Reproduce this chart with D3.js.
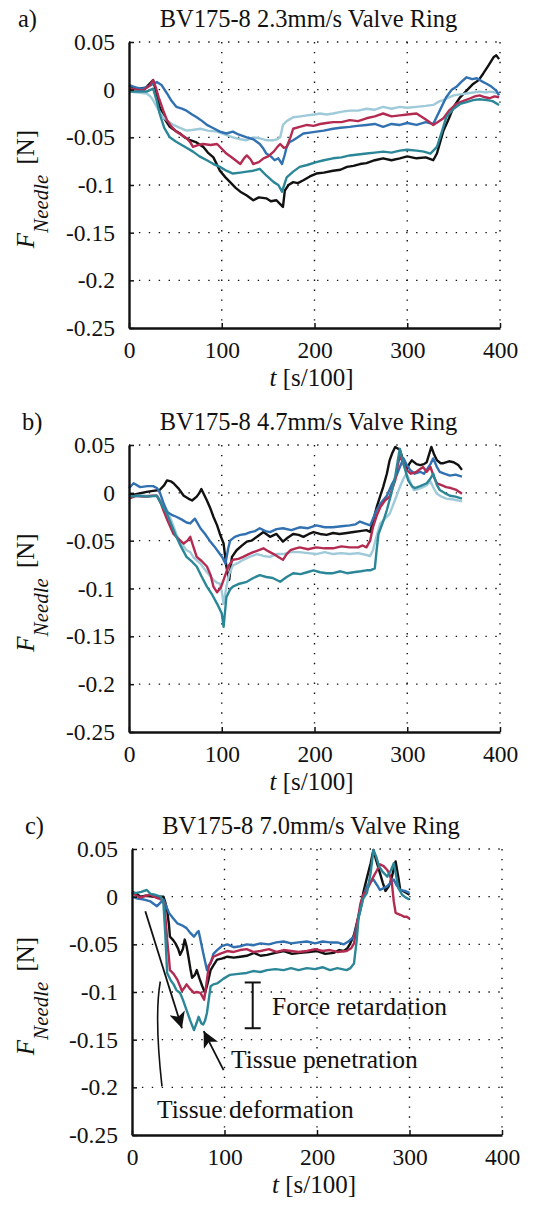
<!DOCTYPE html>
<html>
<head>
<meta charset="utf-8">
<script src="https://cdn.jsdelivr.net/npm/d3@7"></script>
<style>
  body { margin: 0; background: #fff; }
  text { font-family: "Liberation Serif", "Times New Roman", serif; fill: #111; }
</style>
</head>
<body>
<div id="chart"></div>
<script>
// ticks shared by all three panels
var xTicks = [0, 100, 200, 300, 400];
var yTicks = [0.05, 0, -0.05, -0.1, -0.15, -0.2, -0.25];
var yTickLabels = ["0.05", "0", "-0.05", "-0.1", "-0.15", "-0.2", "-0.25"];

var titles = ["BV175-8 2.3mm/s Valve Ring", "BV175-8 4.7mm/s Valve Ring", "BV175-8 7.0mm/s Valve Ring"];
var panelLabels = ["a)", "b)", "c)"];

// ---- panel a : 2.3 mm/s  ([t, F])
var aBlack = [[0,0.004],[10,0.001],[18,0.002],[26,0.01],[30,-0.005],[33,-0.018],[38,-0.03],[44,-0.039],[50,-0.043],[55,-0.046],[60,-0.05],[66,-0.053],[72,-0.055],[80,-0.06],[85,-0.066],[91,-0.071],[98,-0.085],[104,-0.092],[109,-0.097],[115,-0.103],[120,-0.107],[127,-0.111],[134,-0.116],[140,-0.113],[148,-0.114],[153,-0.117],[159,-0.116],[163,-0.12],[166,-0.123],[168,-0.106],[172,-0.1],[177,-0.097],[182,-0.098],[188,-0.095],[195,-0.091],[202,-0.088],[210,-0.087],[220,-0.085],[228,-0.084],[235,-0.081],[242,-0.08],[249,-0.078],[256,-0.077],[265,-0.074],[274,-0.072],[283,-0.074],[292,-0.072],[300,-0.07],[310,-0.072],[320,-0.071],[328,-0.074],[332,-0.067],[339,-0.043],[345,-0.03],[350,-0.018],[357,-0.008],[364,-0.001],[371,0.006],[377,0.01],[382,0.017],[388,0.026],[393,0.034],[396,0.036],[399,0.032]];
var aBlue = [[0,0.005],[8,0.002],[15,0.001],[22,0.004],[30,0.008],[35,0.005],[41,-0.004],[46,-0.012],[51,-0.018],[57,-0.02],[62,-0.022],[68,-0.026],[73,-0.029],[79,-0.033],[84,-0.037],[90,-0.04],[98,-0.044],[105,-0.046],[112,-0.044],[118,-0.047],[127,-0.05],[134,-0.052],[141,-0.057],[145,-0.062],[148,-0.067],[153,-0.07],[157,-0.074],[161,-0.072],[165,-0.078],[168,-0.068],[170,-0.06],[173,-0.055],[177,-0.053],[182,-0.05],[188,-0.046],[195,-0.045],[202,-0.044],[210,-0.043],[220,-0.041],[228,-0.04],[238,-0.039],[246,-0.038],[256,-0.037],[265,-0.036],[274,-0.039],[283,-0.036],[292,-0.037],[300,-0.035],[310,-0.037],[320,-0.034],[328,-0.036],[335,-0.022],[342,-0.008],[348,0],[353,0.003],[358,0.008],[364,0.013],[370,0.011],[375,0.012],[380,0.009],[386,0.006],[391,0.003],[396,-0.001],[399,-0.006]];
var aLight = [[0,-0.002],[10,-0.003],[19,-0.004],[23,-0.007],[26,-0.011],[31,-0.02],[37,-0.029],[42,-0.033],[48,-0.037],[55,-0.04],[62,-0.043],[70,-0.042],[77,-0.041],[85,-0.043],[95,-0.044],[103,-0.047],[112,-0.05],[120,-0.052],[127,-0.053],[134,-0.05],[141,-0.051],[148,-0.053],[156,-0.053],[160,-0.052],[163,-0.05],[166,-0.037],[170,-0.033],[177,-0.029],[185,-0.028],[192,-0.027],[200,-0.026],[206,-0.025],[213,-0.026],[220,-0.025],[230,-0.023],[238,-0.022],[247,-0.022],[256,-0.02],[265,-0.021],[274,-0.018],[283,-0.02],[292,-0.018],[300,-0.019],[310,-0.018],[320,-0.017],[328,-0.016],[335,-0.012],[339,-0.011],[345,-0.008],[350,-0.006],[357,-0.005],[364,-0.004],[371,-0.003],[378,-0.002],[385,-0.003],[389,-0.002],[395,-0.003],[399,-0.004]];
var aRed = [[0,0.001],[8,0],[15,-0.001],[22,0.004],[26,0.01],[29,0.002],[32,-0.008],[37,-0.022],[41,-0.032],[46,-0.039],[51,-0.044],[56,-0.047],[62,-0.051],[66,-0.055],[69,-0.06],[75,-0.058],[80,-0.057],[88,-0.058],[95,-0.057],[100,-0.062],[105,-0.067],[112,-0.072],[120,-0.078],[124,-0.072],[127,-0.069],[131,-0.073],[134,-0.078],[140,-0.076],[145,-0.072],[150,-0.07],[156,-0.065],[160,-0.06],[163,-0.057],[167,-0.061],[170,-0.06],[174,-0.05],[177,-0.041],[184,-0.039],[192,-0.037],[199,-0.038],[206,-0.036],[213,-0.035],[220,-0.034],[229,-0.034],[238,-0.032],[247,-0.033],[256,-0.03],[265,-0.028],[274,-0.025],[283,-0.028],[292,-0.027],[300,-0.026],[310,-0.025],[318,-0.03],[324,-0.034],[328,-0.037],[333,-0.034],[339,-0.03],[345,-0.022],[353,-0.015],[360,-0.012],[368,-0.009],[373,-0.007],[378,-0.006],[384,-0.008],[389,-0.009],[394,-0.007],[399,-0.008]];
var aTeal = [[0,-0.002],[10,-0.002],[19,-0.002],[26,0.001],[30,-0.012],[33,-0.025],[38,-0.04],[44,-0.05],[50,-0.054],[55,-0.057],[62,-0.061],[69,-0.065],[76,-0.07],[84,-0.074],[91,-0.078],[98,-0.081],[105,-0.085],[112,-0.088],[120,-0.087],[127,-0.086],[134,-0.085],[141,-0.083],[148,-0.09],[156,-0.097],[161,-0.1],[165,-0.107],[168,-0.098],[170,-0.092],[177,-0.086],[184,-0.081],[192,-0.079],[202,-0.076],[210,-0.074],[220,-0.072],[229,-0.071],[238,-0.069],[247,-0.068],[256,-0.067],[265,-0.066],[274,-0.065],[283,-0.066],[292,-0.064],[300,-0.063],[310,-0.064],[318,-0.065],[325,-0.067],[332,-0.06],[337,-0.045],[342,-0.029],[350,-0.02],[357,-0.015],[364,-0.013],[371,-0.011],[378,-0.01],[386,-0.011],[392,-0.012],[399,-0.016]];

// ---- panel b : 4.7 mm/s
var bBlack = [[0,-0.003],[10,-0.001],[19,0.001],[26,0.002],[33,0.003],[38,0.008],[41,0.013],[45,0.012],[48,0.01],[53,0.005],[59,-0.003],[64,-0.006],[68,-0.008],[73,-0.004],[76,0],[78,0.004],[81,-0.002],[84,-0.008],[88,-0.017],[91,-0.025],[95,-0.034],[98,-0.043],[102,-0.053],[105,-0.077],[108,-0.091],[111,-0.067],[116,-0.06],[122,-0.055],[127,-0.051],[132,-0.05],[138,-0.046],[145,-0.041],[152,-0.046],[159,-0.043],[166,-0.051],[171,-0.047],[177,-0.043],[183,-0.044],[188,-0.046],[194,-0.043],[199,-0.041],[206,-0.043],[213,-0.044],[220,-0.042],[227,-0.043],[235,-0.042],[242,-0.041],[249,-0.04],[256,-0.039],[260,-0.041],[263,-0.03],[267,-0.015],[271,-0.003],[274,0.006],[278,0.02],[281,0.034],[284,0.042],[287,0.048],[292,0.045],[296,0.033],[299,0.024],[302,0.03],[305,0.034],[310,0.03],[314,0.029],[318,0.03],[321,0.032],[326,0.048],[329,0.04],[332,0.034],[336,0.031],[339,0.031],[345,0.033],[350,0.032],[355,0.029],[359,0.024]];
var bBlue = [[0,0.005],[5,0.01],[12,0.006],[20,0.007],[26,0.007],[30,0.005],[33,0.001],[37,-0.01],[41,-0.02],[46,-0.023],[51,-0.025],[57,-0.028],[62,-0.031],[66,-0.032],[71,-0.027],[74,-0.032],[77,-0.037],[82,-0.043],[87,-0.05],[92,-0.056],[98,-0.064],[101,-0.068],[104,-0.074],[107,-0.058],[109,-0.05],[114,-0.046],[120,-0.044],[126,-0.043],[131,-0.041],[136,-0.04],[141,-0.037],[147,-0.04],[152,-0.041],[159,-0.038],[166,-0.037],[175,-0.039],[184,-0.036],[193,-0.037],[202,-0.034],[211,-0.036],[220,-0.036],[229,-0.035],[238,-0.034],[244,-0.033],[249,-0.03],[254,-0.032],[260,-0.034],[264,-0.025],[267,-0.018],[272,-0.01],[278,-0.003],[283,0.008],[288,0.017],[292,0.027],[296,0.036],[299,0.03],[303,0.024],[308,0.02],[314,0.022],[318,0.02],[321,0.024],[325,0.03],[328,0.036],[332,0.027],[335,0.022],[340,0.02],[346,0.018],[352,0.019],[359,0.017]];
var bLight = [[0,-0.004],[10,-0.003],[20,-0.003],[30,-0.003],[35,-0.009],[41,-0.018],[46,-0.03],[51,-0.043],[56,-0.052],[62,-0.06],[66,-0.062],[70,-0.068],[77,-0.074],[84,-0.083],[91,-0.091],[95,-0.094],[98,-0.095],[100,-0.103],[102,-0.116],[105,-0.098],[108,-0.085],[112,-0.076],[118,-0.073],[123,-0.07],[130,-0.067],[138,-0.064],[145,-0.066],[152,-0.067],[159,-0.064],[166,-0.064],[175,-0.062],[184,-0.062],[193,-0.063],[202,-0.064],[211,-0.062],[220,-0.064],[229,-0.063],[238,-0.064],[247,-0.063],[256,-0.065],[260,-0.066],[263,-0.06],[267,-0.045],[271,-0.032],[276,-0.027],[281,-0.022],[287,-0.007],[292,0.006],[296,0.015],[299,0.02],[303,0.012],[307,0.003],[312,0.004],[317,0.006],[321,0.008],[325,0.012],[329,0.004],[332,-0.001],[337,-0.004],[342,-0.006],[350,-0.007],[359,-0.009]];
var bRed = [[0,-0.006],[8,-0.003],[14,-0.004],[19,-0.004],[25,-0.003],[30,-0.003],[34,-0.01],[37,-0.018],[42,-0.03],[48,-0.043],[53,-0.048],[59,-0.053],[63,-0.05],[66,-0.046],[70,-0.058],[73,-0.067],[78,-0.071],[84,-0.077],[88,-0.086],[91,-0.098],[95,-0.104],[99,-0.099],[102,-0.091],[107,-0.077],[112,-0.07],[118,-0.069],[123,-0.067],[129,-0.064],[134,-0.062],[140,-0.06],[145,-0.058],[150,-0.061],[156,-0.064],[161,-0.067],[166,-0.07],[170,-0.064],[174,-0.06],[180,-0.058],[184,-0.057],[193,-0.059],[202,-0.057],[211,-0.058],[220,-0.058],[229,-0.056],[238,-0.057],[247,-0.057],[252,-0.055],[256,-0.057],[260,-0.05],[263,-0.036],[267,-0.024],[271,-0.015],[276,-0.008],[281,-0.004],[287,0.013],[290,0.03],[292,0.039],[296,0.03],[299,0.024],[304,0.02],[310,0.022],[314,0.025],[317,0.027],[321,0.022],[325,0.027],[329,0.016],[332,0.01],[337,0.008],[342,0.006],[347,0.005],[353,0.003],[359,-0.001]];
var bTeal = [[0,-0.004],[10,-0.003],[20,-0.004],[30,-0.003],[35,-0.012],[41,-0.022],[46,-0.034],[51,-0.046],[56,-0.056],[62,-0.067],[68,-0.072],[73,-0.077],[78,-0.087],[84,-0.098],[90,-0.107],[95,-0.116],[100,-0.126],[102,-0.14],[105,-0.109],[109,-0.101],[112,-0.098],[119,-0.095],[127,-0.093],[134,-0.089],[141,-0.086],[148,-0.088],[155,-0.089],[163,-0.093],[170,-0.088],[177,-0.084],[185,-0.085],[192,-0.083],[199,-0.081],[206,-0.083],[213,-0.084],[220,-0.084],[228,-0.082],[235,-0.084],[242,-0.083],[250,-0.082],[256,-0.081],[260,-0.081],[265,-0.079],[267,-0.06],[269,-0.043],[274,-0.03],[278,-0.018],[283,0],[287,0.017],[290,0.035],[292,0.046],[296,0.03],[301,0.013],[305,0.007],[308,0.005],[314,0.007],[321,0.01],[325,0.015],[328,0.02],[332,0.008],[335,0.003],[340,0],[346,-0.003],[352,-0.004],[359,-0.006]];

// ---- panel c : 7.0 mm/s
var cBlack = [[0,0.005],[5,0.003],[9,0],[15,0.001],[22,0],[28,0],[34,0],[36,-0.006],[38,-0.014],[40,-0.03],[41,-0.042],[44,-0.045],[47,-0.049],[50,-0.055],[52,-0.061],[55,-0.055],[57,-0.045],[59,-0.052],[61,-0.063],[63,-0.075],[65,-0.085],[68,-0.082],[70,-0.077],[73,-0.086],[76,-0.094],[79,-0.101],[82,-0.09],[85,-0.077],[88,-0.072],[92,-0.066],[97,-0.065],[103,-0.063],[110,-0.064],[117,-0.063],[124,-0.062],[132,-0.059],[139,-0.062],[146,-0.061],[155,-0.059],[164,-0.057],[173,-0.06],[182,-0.059],[191,-0.058],[200,-0.057],[209,-0.06],[218,-0.059],[224,-0.056],[229,-0.057],[233,-0.054],[236,-0.049],[240,-0.04],[243,-0.028],[247,-0.012],[250,0.004],[254,0.02],[258,0.035],[261,0.049],[264,0.038],[268,0.025],[271,0.015],[274,0.006],[277,0.01],[279,0.014],[282,0.025],[285,0.037],[288,0.02],[290,0.007],[295,0.005],[300,0.002]];
var cBlue = [[0,0],[6,-0.002],[13,-0.003],[20,-0.005],[27,-0.01],[31,-0.006],[34,-0.003],[37,-0.01],[40,-0.017],[44,-0.022],[49,-0.028],[54,-0.03],[59,-0.033],[63,-0.038],[67,-0.042],[70,-0.038],[72,-0.036],[75,-0.05],[77,-0.059],[79,-0.068],[81,-0.077],[83,-0.072],[85,-0.07],[88,-0.06],[92,-0.056],[97,-0.052],[103,-0.05],[110,-0.053],[117,-0.052],[124,-0.05],[131,-0.051],[139,-0.049],[148,-0.05],[156,-0.048],[164,-0.047],[172,-0.049],[180,-0.048],[189,-0.047],[198,-0.049],[206,-0.047],[214,-0.048],[222,-0.048],[229,-0.05],[234,-0.047],[240,-0.042],[243,-0.03],[247,-0.014],[250,0],[254,0.011],[258,0.016],[261,0.018],[265,0.012],[268,0.007],[272,0.009],[276,0.011],[280,0.015],[283,0.018],[286,0.012],[290,0.007],[295,0.006],[300,0.004]];
var cRed = [[0,0.004],[5,0.001],[9,-0.001],[15,0.001],[20,0.002],[26,-0.001],[32,-0.003],[35,-0.008],[38,-0.045],[40,-0.065],[41,-0.077],[45,-0.081],[49,-0.087],[52,-0.094],[54,-0.099],[57,-0.095],[59,-0.092],[63,-0.097],[67,-0.101],[70,-0.1],[74,-0.101],[78,-0.108],[80,-0.095],[83,-0.073],[86,-0.067],[88,-0.063],[95,-0.06],[103,-0.057],[110,-0.058],[117,-0.056],[124,-0.055],[131,-0.058],[139,-0.057],[148,-0.055],[156,-0.058],[164,-0.056],[172,-0.057],[180,-0.058],[189,-0.057],[198,-0.055],[206,-0.057],[214,-0.056],[222,-0.058],[232,-0.057],[237,-0.054],[240,-0.049],[243,-0.03],[247,-0.007],[250,0.002],[254,0.007],[258,0.015],[261,0.021],[265,0.028],[268,0.034],[272,0.032],[276,0.028],[279,0.022],[281,0.014],[283,-0.005],[285,-0.017],[290,-0.019],[294,-0.021],[297,-0.021],[300,-0.023]];
var cTeal = [[0,0.004],[5,0.004],[10,0.005],[16,0.007],[20,0.003],[25,0.002],[31,0],[34,-0.007],[36,-0.04],[38,-0.08],[42,-0.088],[45,-0.092],[48,-0.098],[52,-0.101],[55,-0.108],[59,-0.119],[63,-0.13],[67,-0.14],[70,-0.132],[72,-0.126],[75,-0.133],[77,-0.134],[79,-0.13],[81,-0.122],[83,-0.108],[85,-0.094],[88,-0.092],[92,-0.091],[99,-0.086],[106,-0.082],[115,-0.081],[124,-0.08],[131,-0.078],[139,-0.079],[146,-0.077],[155,-0.076],[164,-0.077],[172,-0.075],[180,-0.077],[189,-0.075],[198,-0.076],[206,-0.074],[214,-0.077],[222,-0.075],[232,-0.077],[236,-0.075],[240,-0.07],[243,-0.045],[245,-0.021],[250,-0.002],[254,0.004],[258,0.025],[261,0.049],[264,0.042],[267,0.032],[271,0.026],[276,0.021],[280,0.028],[283,0.035],[285,0.025],[288,0.009],[292,0.002],[296,-0.001],[300,-0.003]];

var colBlack = "#111111", colBlue = "#3171b1", colLight = "#9ecad9", colRed = "#b42b52", colTeal = "#2b8797";
var serif = "'Liberation Serif', 'Times New Roman', serif";

var panels = [
  { series: [[aBlack, colBlack], [aLight, colLight], [aBlue, colBlue], [aRed, colRed], [aTeal, colTeal]],
    left: 129, right: 500, top: 42, bottom: 328, labelX: 18 },
  { series: [[bBlack, colBlack], [bLight, colLight], [bBlue, colBlue], [bRed, colRed], [bTeal, colTeal]],
    left: 129, right: 500, top: 445, bottom: 732, labelX: 22 },
  { series: [[cBlack, colBlack], [cBlue, colBlue], [cRed, colRed], [cTeal, colTeal]],
    left: 132, right: 502, top: 849, bottom: 1135, labelX: 25 }
];

var svg = d3.select("#chart").append("svg")
    .attr("width", 545)
    .attr("height", 1206)
    .attr("font-family", serif);

var defs = svg.append("defs");
defs.append("marker")
    .attr("id", "head")
    .attr("viewBox", "0 0 10 10")
    .attr("refX", 10).attr("refY", 5)
    .attr("markerUnits", "userSpaceOnUse")
    .attr("markerWidth", 24).attr("markerHeight", 16)
    .attr("orient", "auto")
  .append("path")
    .attr("d", "M0,0 L10,5 L0,10 L2.5,5 Z")
    .attr("fill", "#111");

panels.forEach(function(p, i) {
  var x = d3.scaleLinear().domain([0, 400]).range([p.left, p.right]);
  var y = d3.scaleLinear().domain([-0.25, 0.05]).range([p.bottom, p.top]);
  var g = svg.append("g");

  // dotted grid
  g.selectAll(".vgrid").data(xTicks.slice(1)).enter().append("line")
      .attr("x1", function(d) { return x(d); }).attr("x2", function(d) { return x(d); })
      .attr("y1", y(0.05)).attr("y2", y(-0.25))
      .attr("stroke", "#111").attr("stroke-width", 1.4)
      .attr("stroke-dasharray", "1.4,8.5");
  g.selectAll(".hgrid").data(yTicks.slice(0, -1)).enter().append("line")
      .attr("y1", function(d) { return y(d); }).attr("y2", function(d) { return y(d); })
      .attr("x1", x(0)).attr("x2", x(400))
      .attr("stroke", "#111").attr("stroke-width", 1.4)
      .attr("stroke-dasharray", "1.4,8.5");

  // series
  var line = d3.line()
      .x(function(d) { return x(d[0]); })
      .y(function(d) { return y(d[1]); });
  p.series.forEach(function(s) {
    g.append("path")
        .datum(s[0])
        .attr("d", line)
        .attr("fill", "none")
        .attr("stroke", s[1])
        .attr("stroke-width", 2.4)
        .attr("stroke-linejoin", "round");
  });

  // axes
  var yAxis = g.append("g")
      .attr("transform", "translate(" + x(0) + ",0)")
      .call(d3.axisLeft(y).tickValues(yTicks)
            .tickFormat(function(d, k) { return yTickLabels[k]; })
            .tickSizeInner(-5).tickSizeOuter(0).tickPadding(14));
  var xAxis = g.append("g")
      .attr("transform", "translate(0," + y(-0.25) + ")")
      .call(d3.axisBottom(x).tickValues(xTicks)
            .tickSizeInner(-5).tickSizeOuter(0).tickPadding(13));
  [yAxis, xAxis].forEach(function(a) {
    a.attr("font-family", serif).attr("font-size", 23.5);
    a.select(".domain").attr("stroke", "#111").attr("stroke-width", 2.4);
    a.selectAll(".tick line").attr("stroke", "#111").attr("stroke-width", 1.5);
    a.selectAll("text").attr("fill", "#111").style("font-family", serif);
  });

  var mid = (p.left + p.right) / 2;
  // title and panel letter
  g.append("text")
      .attr("x", mid - 6).attr("y", p.top - 15)
      .attr("text-anchor", "middle").attr("font-size", 24.5)
      .text(titles[i]);
  g.append("text")
      .attr("x", p.labelX).attr("y", p.top - 15)
      .attr("font-size", 24.5)
      .text(panelLabels[i]);

  // x label
  var xl = g.append("text")
      .attr("x", mid - 3).attr("y", p.bottom + 58)
      .attr("text-anchor", "middle").attr("font-size", 25);
  xl.append("tspan").attr("font-style", "italic").text("t");
  xl.append("tspan").text(" [s/100]");

  // y label
  var yl = g.append("text")
      .attr("transform", "translate(34," + ((p.top + p.bottom) / 2 + 4) + ") rotate(-90)")
      .attr("text-anchor", "middle").attr("font-size", 25);
  yl.append("tspan").attr("font-style", "italic").text("F");
  yl.append("tspan").attr("font-style", "italic").attr("font-size", 21).attr("dy", 14).text("Needle");
  yl.append("tspan").attr("dy", -14).attr("dx", 10).text("[N]");

  // annotations on the 7.0 mm/s panel
  if (i === 2) {
    var ann = g.append("g").attr("stroke", "#111").attr("fill", "none");
    ann.append("line")
        .attr("x1", x(14.4)).attr("y1", y(-0.0154))
        .attr("x2", x(54)).attr("y2", y(-0.138))
        .attr("stroke-width", 1.8).attr("marker-end", "url(#head)");
    ann.append("line")
        .attr("x1", x(99)).attr("y1", y(-0.182))
        .attr("x2", x(77.5)).attr("y2", y(-0.141))
        .attr("stroke-width", 1.8).attr("marker-end", "url(#head)");
    ann.append("path")
        .attr("d", "M" + x(30.6) + "," + y(-0.089) +
                   " Q" + x(24) + "," + y(-0.125) + " " + x(32.4) + "," + y(-0.199))
        .attr("stroke-width", 1.6);
    // force retardation bar
    var bx = x(130.5);
    ann.append("line").attr("x1", bx).attr("x2", bx)
        .attr("y1", y(-0.09)).attr("y2", y(-0.138)).attr("stroke-width", 2);
    [-0.09, -0.138].forEach(function(v) {
      ann.append("line").attr("x1", bx - 8).attr("x2", bx + 8)
          .attr("y1", y(v)).attr("y2", y(v)).attr("stroke-width", 2);
    });
    g.append("text").attr("x", x(151.4)).attr("y", y(-0.124))
        .attr("font-size", 25.5).text("Force retardation");
    g.append("text").attr("x", x(107)).attr("y", y(-0.18))
        .attr("font-size", 25.5).text("Tissue penetration");
    g.append("text").attr("x", x(27)).attr("y", y(-0.2324))
        .attr("font-size", 25.5).text("Tissue deformation");
  }
});
</script>
</body>
</html>
